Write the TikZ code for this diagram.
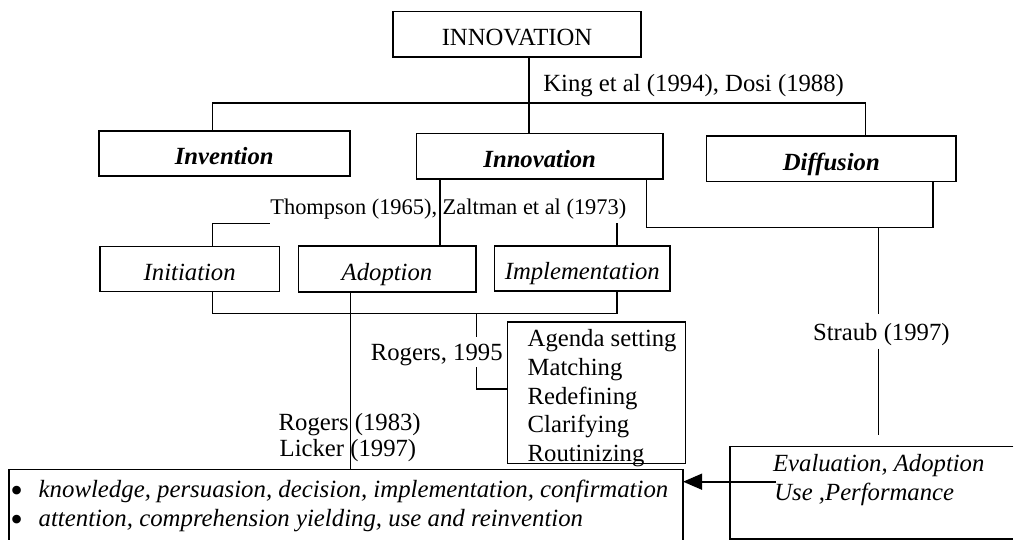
\documentclass[tikz,border=0pt]{standalone}
\usepackage{fontspec}
\setmainfont{Liberation Serif}
\usetikzlibrary{arrows.meta,calc}
\newcommand{\bulletmark}{\makebox[14.15pt][l]{\smash{\raisebox{-2.5pt}{\fontsize{18pt}{18pt}\selectfont\textbullet}}}}
\begin{document}
\begin{tikzpicture}[x=0.5pt,y=-0.5pt,
  every node/.style={font=\fontsize{12.35pt}{14.4pt}\selectfont},
  box/.style={draw, line width=0.8pt, inner sep=0pt, text height=11.5pt, text depth=0pt},
  lbl/.style={inner sep=0pt, anchor=base west},
  bullettext/.style={inner sep=0pt, anchor=north west, align=left, font=\fontsize{12.4pt}{14.5pt}\selectfont},
  conn/.style={line width=0.8pt},
  arr/.style={line width=0.8pt, -{Triangle[length=9.5pt,width=8pt]}}]

\useasboundingbox (0,0) rectangle (1014,540);

% boxes
\node[box, minimum width=123.85pt, minimum height=22.8pt] (top) at (517,34.5) {INNOVATION};
\node[box, minimum width=125.5pt, minimum height=22.5pt] (inv) at (224.2,153.5) {\textbf{\textit{Invention}}};
\node[box, minimum width=123.35pt, minimum height=22.85pt] (inn) at (539.7,156.2) {\textbf{\textit{Innovation}}};
\node[box, minimum width=124.65pt, minimum height=22.85pt] (dif) at (831.3,158.8) {\textbf{\textit{Diffusion}}};
\node[box, minimum width=89.65pt, minimum height=22.5pt] (ini) at (189.7,269.2) {\textit{Initiation}};
\node[box, minimum width=88.7pt, minimum height=22.85pt] (ado) at (387,268.9) {\textit{Adoption}};
\node[box, minimum width=87.65pt, minimum height=22.35pt] (imp) at (582.3,268.4) {\textit{Implementation}};
\node[draw, line width=0.8pt, inner sep=0pt, minimum width=89pt, minimum height=70.5pt] (age) at (596.3,392.8) {};
\node[inner sep=0pt, minimum width=336.7pt, minimum height=34.75pt] (bul) at (346,504.75) {};
\node[inner sep=0pt, minimum width=141.35pt, minimum height=45.8pt] (ev) at (871.65,492.5) {};
\draw[conn] (bul.south west) -- (bul.north west) -- (bul.north east) -- (bul.south east);
\draw[conn] (ev.north east) -- (ev.north west) -- (ev.south west) -- (ev.south east);

% labels
\node[lbl] (king) at (543,91.7) {King et al (1994), Dosi (1988)};
\node[lbl, font=\fontsize{11.2pt}{14pt}\selectfont] (thomp) at (270,215) {Thompson (1965), Zaltman et al (1973)};
\node[lbl] (straub) at (812.7,340.7) {Straub (1997)};
\node[lbl, anchor=base east] (r95) at (503,360.7) {Rogers, 1995};
\node[lbl] (r83) at (278.3,430.5) {Rogers (1983)};
\node[lbl] (lic) at (279.3,456.7) {Licker (1997)};
\foreach \t [count=\i from 0] in {Agenda setting, Matching, Redefining, Clarifying, Routinizing}
  \node[lbl] (ag\i) at (527.3,{346.5+28.75*\i}) {\t};
\node[bullettext] (blist) at (10,479) {\rule{0pt}{9pt}\bulletmark\textit{knowledge, persuasion, decision, implementation, confirmation}\\
  \bulletmark\textit{attention, comprehension yielding, use and reinvention}};
\node[lbl] (e1) at (772.7,471.7) {\textit{Evaluation, Adoption}};
\node[lbl] (e2) at (774,500.7) {\textit{Use ,Performance}};

% guide coordinates
\coordinate (xI) at (212.5,0);
\coordinate (xN) at (528.7,0);
\coordinate (xD) at (865.3,0);
\coordinate (xA) at (440,0);
\coordinate (xM) at (616.8,0);
\coordinate (xR1) at (646.3,0);
\coordinate (xR2) at (932.7,0);
\coordinate (xS) at (878.3,0);
\coordinate (xAd) at (350.3,0);
\coordinate (xB) at (476.3,0);
\coordinate (yK) at (0,103);
\coordinate (yT) at (0,223.5);
\coordinate (yL) at (0,227.7);
\coordinate (yB) at (0,313.5);
\coordinate (yAg) at (0,389);
\coordinate (sEnd) at (878.3,435);
\coordinate (arrS) at (776,481.7);

% connectors
\draw[conn] (top.south -| xN) -- (inn.north -| xN);
\draw[conn] (inv.north -| xI) -- (yK -| xI) -- (yK -| xD) -- (dif.north -| xD);
\draw[conn] (inn.south -| xA) -- (ado.north -| xA);
\draw[conn] (ini.north -| xI) -- (yT -| xI) -- (yT -| thomp.west);
\draw[conn] (yT -| xM) -- (imp.north -| xM);
\draw[conn] (inn.south -| xR1) -- (yL -| xR1) -- (yL -| xR2) -- (dif.south -| xR2);
\draw[conn] (yL -| xS) -- ($(straub.north -| xS)+(0,-8.7)$);
\draw[conn] ($(straub.south -| xS)+(0,2.2)$) -- (sEnd);
\draw[conn] (ini.south -| xI) -- (yB -| xI) -- (yB -| xM) -- (imp.south -| xM);
\draw[conn] (yB -| xB) -- ($(r95.north -| xB)+(0,-7.3)$);
\draw[conn] ($(r95.south -| xB)+(0,0.6)$) -- (yAg -| xB) -- (yAg -| age.west);
\draw[conn] (ado.south -| xAd) -- (bul.north -| xAd);
\draw[arr] (arrS) -- (arrS -| bul.east);
\end{tikzpicture}
\end{document}
